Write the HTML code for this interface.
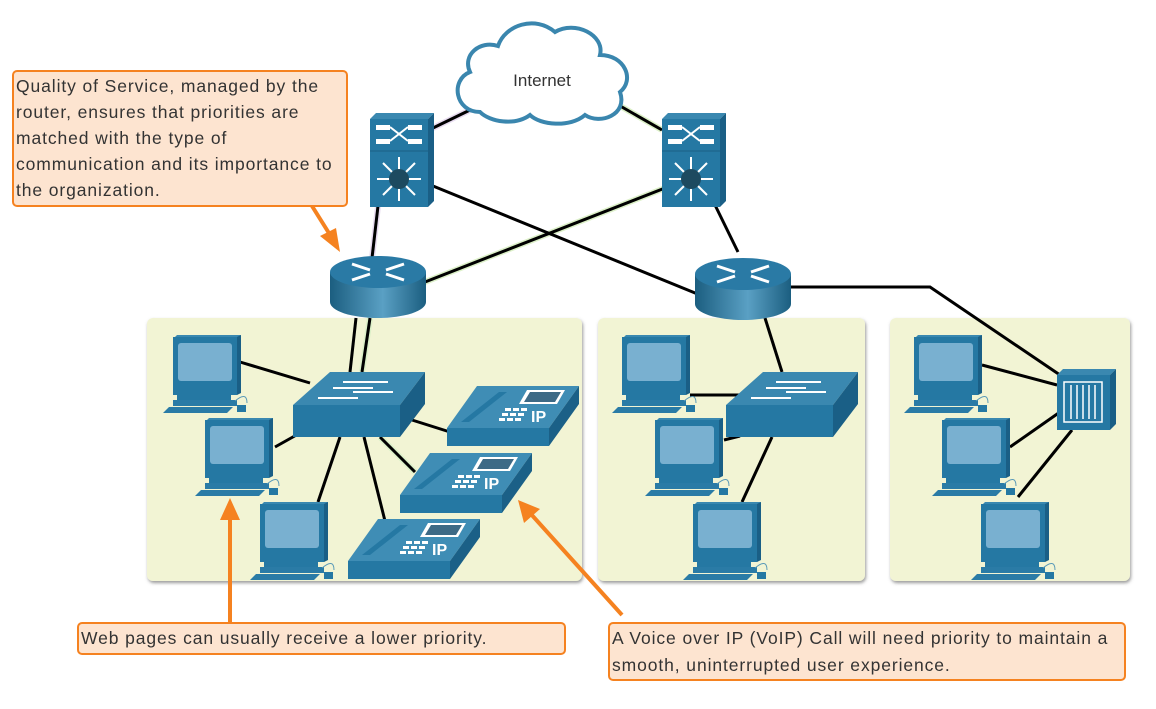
<!DOCTYPE html>
<html><head><meta charset="utf-8"><style>
body{margin:0;background:#fff;width:1156px;height:709px;overflow:hidden;font-family:"Liberation Sans",sans-serif}
.box{position:absolute;background:#fde4d0;border:2px solid #f58220;border-radius:5px;color:#333;font-size:17.5px;letter-spacing:0.9px;line-height:26px;padding:0 2px;box-sizing:border-box}
</style></head><body>
<svg width="1156" height="709" style="position:absolute;left:0;top:0">
<defs>
<filter id="sh" x="-5%" y="-5%" width="110%" height="110%"><feDropShadow dx="1" dy="2" stdDeviation="1.5" flood-color="#555" flood-opacity="0.6"/></filter>
<linearGradient id="rg" x1="0" x2="1"><stop offset="0" stop-color="#1b5e80"/><stop offset="0.55" stop-color="#5aa0c4"/><stop offset="1" stop-color="#1b5e80"/></linearGradient>
<g id="pc">
 <polygon points="12,2 76,2 78,0 14,0" fill="#3a88b0"/>
 <rect x="10" y="2" width="64" height="58" fill="#2578a3"/>
 <polygon points="74,2 78,0 78,58 74,60" fill="#1a5f86"/>
 <rect x="15" y="8" width="54" height="38" rx="3" fill="#79b0d0"/>
 <rect x="14" y="60" width="54" height="5" fill="#2578a3"/>
 <rect x="10" y="65" width="64" height="6" fill="#2a7ba6"/>
 <polygon points="6,72 70,72 64,78 0,78" fill="#2a7ba6"/>
 <rect x="74" y="70" width="9" height="7" fill="#2578a3"/>
 <path d="M72,66 q12,-10 12,2" stroke="#5a9ab8" fill="none"/>
</g>
<g id="phone">
 <polygon points="30,0 132,0 102,42 0,42" fill="#3f8db5"/>
 <polygon points="0,42 102,42 102,60 0,60" fill="#2578a3"/>
 <polygon points="102,42 132,0 132,18 102,60" fill="#1b6087"/>
 <polygon points="14,36 52,6 60,6 22,36" fill="#2578a3"/>
 <polygon points="80,4 118,4 110,18 72,18" fill="#fff"/><polygon points="83,6 114,6 108,16 77,16" fill="#3d6a86"/>
 <g fill="#fff"><rect x="58" y="22" width="6" height="3"/><rect x="66" y="22" width="6" height="3"/><rect x="74" y="22" width="6" height="3"/>
 <rect x="55" y="27" width="6" height="3"/><rect x="63" y="27" width="6" height="3"/><rect x="71" y="27" width="6" height="3"/>
 <rect x="52" y="32" width="6" height="3"/><rect x="60" y="32" width="6" height="3"/><rect x="68" y="32" width="6" height="3"/></g>
 <text x="84" y="36" fill="#fff" font-size="16" font-family="Liberation Sans" font-weight="bold">IP</text>
</g>
<g id="router">
 <path d="M0,20 L0,50 A48,16 0 0 0 96,50 L96,20 Z" fill="url(#rg)"/>
 <ellipse cx="48" cy="20" rx="48" ry="16" fill="#2a7aa5"/>
 <g stroke="#fff" stroke-width="3"><line x1="22" y1="12" x2="40" y2="18"/><line x1="56" y1="22" x2="74" y2="28"/><line x1="74" y1="12" x2="56" y2="18"/><line x1="40" y1="22" x2="22" y2="28"/></g>
</g>
<g id="mls">
 <polygon points="0,6 58,6 64,0 6,0" fill="#3a88b0"/>
 <rect x="0" y="6" width="58" height="88" fill="#2578a3"/>
 <polygon points="58,6 64,0 64,88 58,94" fill="#1a5f86"/>
 <line x1="0" y1="38" x2="58" y2="38" stroke="#1a5f86"/>
 <g fill="#fff"><rect x="6" y="12" width="14" height="5"/><rect x="38" y="12" width="14" height="5"/><rect x="6" y="26" width="14" height="5"/><rect x="38" y="26" width="14" height="5"/></g>
 <path d="M20,14 L38,28 M20,28 L38,14" stroke="#fff" stroke-width="2"/>
 <g stroke="#fff" stroke-width="2"><line x1="29" y1="44" x2="29" y2="88"/><line x1="7" y1="66" x2="51" y2="66"/><line x1="13" y1="50" x2="45" y2="82"/><line x1="45" y1="50" x2="13" y2="82"/></g>
 <circle cx="29" cy="66" r="10" fill="#1d4a60"/>
</g>
<g id="sw">
 <polygon points="37,0 132,0 107,33 0,33" fill="#3a88b0"/>
 <rect x="0" y="33" width="107" height="32" fill="#2578a3"/>
 <polygon points="107,33 132,0 132,32 107,65" fill="#1a5f86"/>
 <g stroke="#fff" stroke-width="2"><line x1="50" y1="10" x2="95" y2="10"/><line x1="40" y1="16" x2="80" y2="16"/><line x1="60" y1="20" x2="100" y2="20"/><line x1="25" y1="26" x2="65" y2="26"/></g>
</g>
</defs>
<g filter="url(#sh)" fill="#f2f4d4">
<rect x="147" y="318" width="435" height="263" rx="6"/>
<rect x="598" y="318" width="267" height="263" rx="6"/>
<rect x="890" y="318" width="240" height="263" rx="6"/>
</g>
<g stroke-width="6" fill="none">
<line x1="470" y1="110" x2="433" y2="128" stroke="#e8dcf0"/><line x1="378" y1="206" x2="372" y2="258" stroke="#e8dcf0"/>
<line x1="615" y1="103" x2="662" y2="130" stroke="#dcf0c8"/><line x1="665" y1="188" x2="425" y2="282" stroke="#dcf0c8"/>
<line x1="380" y1="437" x2="415" y2="472" stroke="#dcf0c8"/><line x1="370" y1="318" x2="362" y2="372" stroke="#dcf0c8"/>
</g>
<g stroke="#000" stroke-width="3" fill="none">
<line x1="470" y1="110" x2="433" y2="128"/><line x1="615" y1="103" x2="662" y2="130"/>
<line x1="378" y1="206" x2="372" y2="258"/><line x1="433" y1="186" x2="700" y2="295"/>
<line x1="665" y1="188" x2="425" y2="282"/><line x1="715" y1="205" x2="738" y2="252"/>
<polyline points="790,287 930,287 1060,375"/><line x1="765" y1="318" x2="782" y2="372"/>
<line x1="356" y1="318" x2="350" y2="372"/><line x1="370" y1="318" x2="362" y2="372"/>
<line x1="240" y1="362" x2="310" y2="383"/><line x1="275" y1="447" x2="300" y2="433"/>
<line x1="340" y1="437" x2="318" y2="502"/><line x1="364" y1="437" x2="385" y2="521"/>
<line x1="380" y1="437" x2="415" y2="472"/><line x1="412" y1="420" x2="450" y2="432"/>
<line x1="690" y1="395" x2="740" y2="395"/><line x1="724" y1="440" x2="740" y2="436"/><line x1="742" y1="502" x2="772" y2="437"/>
<line x1="982" y1="365" x2="1057" y2="385"/><line x1="1010" y1="447" x2="1060" y2="412"/><line x1="1018" y1="497" x2="1072" y2="430"/>
</g>
<path d="M480,112 C455,112 450,80 470,72 C462,55 480,40 498,46 C505,25 535,15 555,32 C575,20 605,35 600,55 C625,55 635,80 620,92 C628,115 600,125 585,115 C570,128 540,125 530,115 C515,126 490,122 480,112 Z" fill="#fff" stroke="#3a86ae" stroke-width="4"/>
<text x="542" y="86" text-anchor="middle" font-size="17" fill="#333" font-family="Liberation Sans">Internet</text>
<use href="#mls" x="370" y="113"/><use href="#mls" x="662" y="113"/>
<use href="#router" x="330" y="252"/><use href="#router" x="695" y="254"/>
<use href="#sw" x="293" y="372"/><use href="#sw" x="726" y="372"/>
<use href="#pc" x="163" y="335"/><use href="#pc" x="195" y="418"/><use href="#pc" x="250" y="502"/>
<use href="#pc" x="612" y="335"/><use href="#pc" x="645" y="418"/><use href="#pc" x="683" y="502"/>
<use href="#pc" x="904" y="335"/><use href="#pc" x="932" y="418"/><use href="#pc" x="971" y="502"/>
<use href="#phone" x="447" y="386"/><use href="#phone" x="400" y="453"/><use href="#phone" x="348" y="519"/>
<polygon points="1057,375 1110,375 1116,369 1063,369" fill="#3a88b0"/>
<rect x="1057" y="375" width="53" height="55" fill="#2578a3"/>
<polygon points="1110,375 1116,369 1116,424 1110,430" fill="#1a5f86"/>
<rect x="1064" y="382" width="38" height="40" fill="none" stroke="#fff" stroke-width="1.5"/>
<g stroke="#fff" stroke-width="1.5"><line x1="1071" y1="385" x2="1071" y2="419"/><line x1="1077" y1="385" x2="1077" y2="419"/><line x1="1083" y1="385" x2="1083" y2="419"/><line x1="1089" y1="385" x2="1089" y2="419"/><line x1="1095" y1="385" x2="1095" y2="419"/></g>
<g stroke="#f58220" stroke-width="4" fill="#f58220">
<line x1="312" y1="206" x2="332" y2="238"/><line x1="230" y1="622" x2="230" y2="515"/><line x1="622" y1="615" x2="530" y2="513"/>
</g>
<g fill="#f58220">
<polygon points="340,252 320,236 336,228"/>
<polygon points="230,498 220,520 240,520"/>
<polygon points="518,500 524,523 540,509"/>
</g>
</svg>
<div class="box" style="left:12px;top:70px;width:336px;height:137px;padding-top:1px">Quality of Service, managed by the router, ensures that priorities are matched with the type of communication and its importance to the organization.</div>
<div class="box" style="left:77px;top:622px;width:489px;height:33px;line-height:28px">Web pages can usually receive a lower priority.</div>
<div class="box" style="left:608px;top:622px;width:518px;height:59px;line-height:27px;padding-top:1px">A Voice over IP (VoIP) Call will need priority to maintain a smooth, uninterrupted user experience.</div>
</body></html>
